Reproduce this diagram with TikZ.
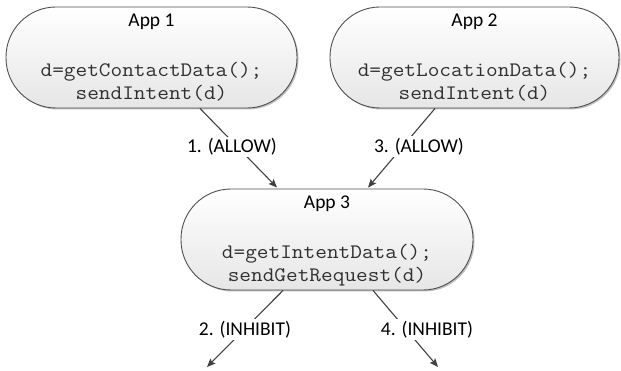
\documentclass[tikz,border=0pt]{standalone}
\usepackage{fontspec}
\setmainfont{Carlito}
\setmonofont{Latin Modern Mono}[FakeStretch=1.1]
\usetikzlibrary{arrows.meta,shadows}
\definecolor{edgegray}{HTML}{404040}
\definecolor{boxline}{HTML}{505050}
\definecolor{boxbottom}{HTML}{E6E6E6}
\definecolor{codegray}{HTML}{303030}
\tikzset{
  appbox/.style={rectangle, rounded corners=50pt, draw=boxline, line width=0.9pt,
    top color=white, bottom color=boxbottom,
    drop shadow={shadow xshift=1.5pt, shadow yshift=-1.5pt, opacity=0.25, fill=black},
    minimum height=101pt, inner sep=0pt},
  apptitle/.style={anchor=base, font=\fontsize{19.5}{23}\selectfont, inner sep=0pt},
  codeline/.style={anchor=base, font=\ttfamily\fontsize{20.6}{23}\selectfont, inner sep=0pt, text=codegray},
  conn/.style={draw=edgegray, line width=1.1pt, -{Stealth[length=8.5pt,width=7pt,inset=1.5pt]}},
  edgelabel/.style={fill=white, inner sep=2pt, font=\fontsize{19.5}{23}\selectfont}
}
\begin{document}
\begin{tikzpicture}[x=1pt,y=-1pt]
\useasboundingbox (0,0) rectangle (621,371);

% boxes
\node[appbox, minimum width=291pt] (app1) at (151.5,57.5) {};
\node[appbox, minimum width=289pt] (app2) at (474.5,57.5) {};
\node[appbox, minimum width=292pt] (app3) at (327,239.5) {};

% texts
\node[apptitle] (t1) at ([yshift=-20pt]app1.north) {App 1};
\node[codeline] (c1a) at ([yshift=-70pt]app1.north) {d=getContactData();};
\node[codeline] (c1b) at ([yshift=-93pt]app1.north) {sendIntent(d)};

\node[apptitle] (t2) at ([yshift=-20pt]app2.north) {App 2};
\node[codeline] (c2a) at ([yshift=-70pt]app2.north) {d=getLocationData();};
\node[codeline] (c2b) at ([yshift=-93pt]app2.north) {sendIntent(d)};

\node[apptitle] (t3) at ([yshift=-20pt]app3.north) {App 3};
\node[codeline] (c3a) at ([yshift=-70pt]app3.north) {d=getIntentData();};
\node[codeline] (c3b) at ([yshift=-93pt]app3.north) {sendGetRequest(d)};

% connector end points
\coordinate (s1) at ([xshift=48.5pt]app1.south);
\coordinate (e1) at ([xshift=-50pt,yshift=1pt]app3.north);
\coordinate (s3) at ([xshift=-39.5pt]app2.south);
\coordinate (e3) at ([xshift=41pt,yshift=1pt]app3.north);
\coordinate (s2) at ([xshift=-44pt]app3.south);
\coordinate (e2) at (207,367);
\coordinate (s4) at ([xshift=46pt]app3.south);
\coordinate (e4) at (438,367);

\draw[conn] (s1) -- (e1);
\draw[conn] (s3) -- (e3);
\draw[conn] (s2) -- (e2);
\draw[conn] (s4) -- (e4);

% labels
\node[edgelabel] (l1) at (232,147) {1. (ALLOW)};
\node[edgelabel] (l3) at (419,146.5) {3. (ALLOW)};
\node[edgelabel] (l2) at (245,329.5) {2. (INHIBIT)};
\node[edgelabel] (l4) at (427,329.5) {4. (INHIBIT)};
\end{tikzpicture}
\end{document}
